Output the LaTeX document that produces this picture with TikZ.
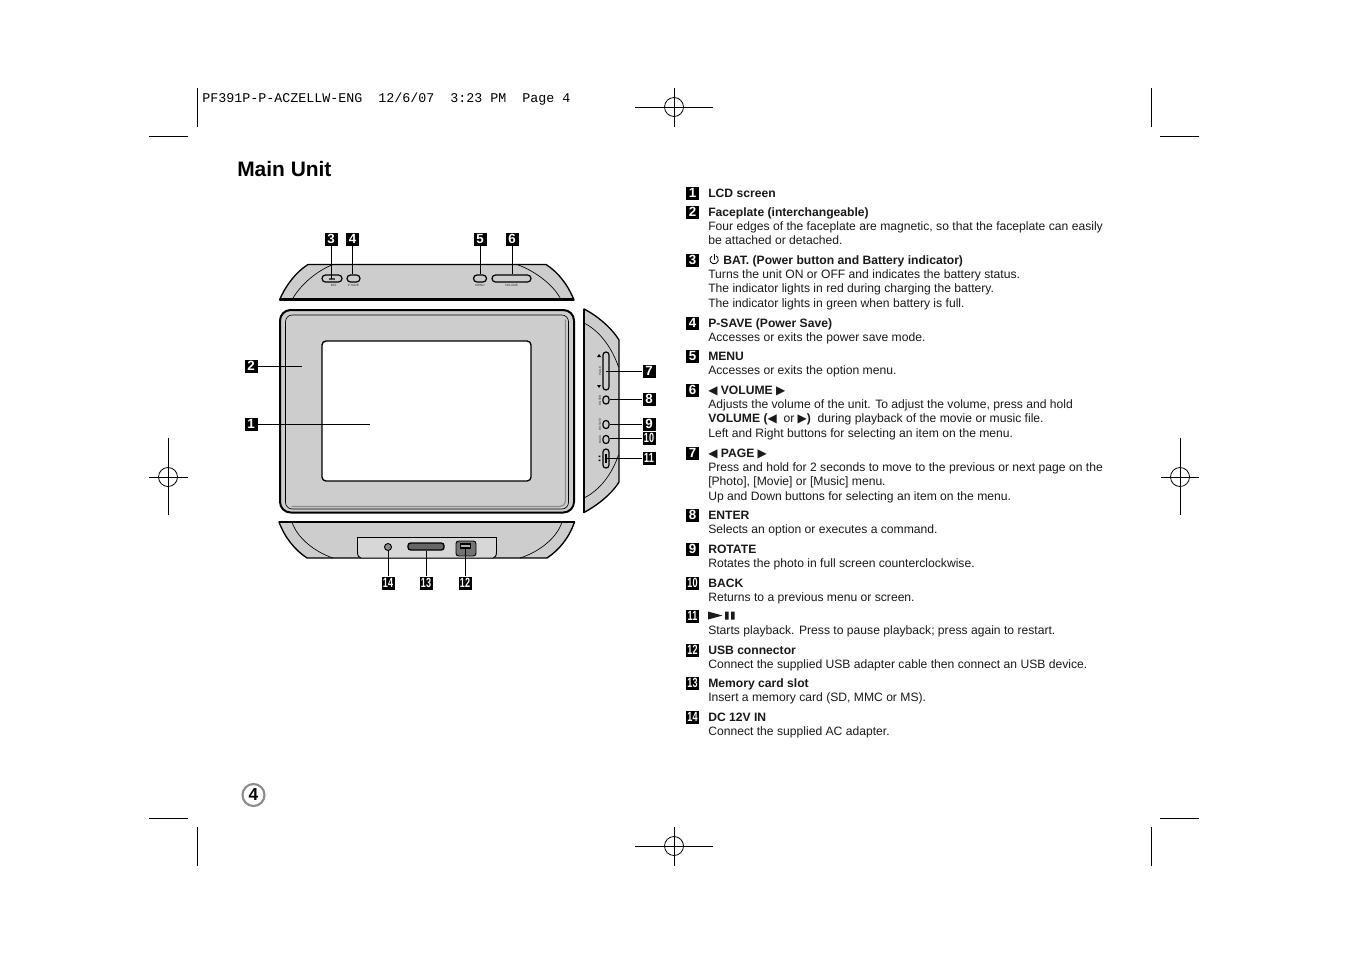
\documentclass[tikz,border=0pt]{standalone}
\usepackage{fontspec}
\setmainfont{Liberation Sans}
\newfontfamily\symf{DejaVu Sans}
\newfontfamily\monof{Liberation Mono}
\newcommand{\lt}{{\symf\fontsize{9}{9}\selectfont ◀}}
\newcommand{\rt}{{\symf\fontsize{9}{9}\selectfont ▶}}
\newcommand{\hd}[1]{\strut\textbf{#1}}
\newcommand{\nn}[1]{\scalebox{0.68}[1]{#1}}
\definecolor{panel}{HTML}{CDCDCD}
\definecolor{ink}{HTML}{1A1A1A}
\tikzset{
  x=0.75pt,y=-0.75pt,
  mw/.style={minimum width=#1*0.75pt},
  mh/.style={minimum height=#1*0.75pt},
  badge/.style={fill=black,text=white,font=\fontsize{10}{10}\bfseries\selectfont,mw=13,mh=13,inner sep=0pt},
  entry/.style={anchor=north west,inner sep=0pt,align=left,font=\fontsize{9.1}{10.75}\selectfont,text=ink},
  leader/.style={line width=0.65pt,black},
  outline/.style={line width=1pt,black,fill=panel,line join=round},
  thin arc/.style={line width=0.5pt,black},
  btn/.style={draw=black,line width=0.9pt,fill=panel,inner sep=0pt,rectangle},
  tiny/.style={font=\fontsize{2.3}{2.6}\selectfont,inner sep=0pt,text=black!80},
  crop/.style={line width=0.6pt,black},
}
\begin{document}
\begin{tikzpicture}
\useasboundingbox (0,0) rectangle (1351,954);
\fill[white] (0,0) rectangle (1351,954);

% crop marks
\foreach \a/\b/\c/\d in {197/88/197/127,149/136/188/136,1151/88/1151/127,1160/136/1199/136,
  149/818/188/818,197/827/197/866,1160/818/1199/818,1151/827/1151/866,
  635/107/713/107,674/88/674/127,635/846/713/846,674/827/674/866,
  149/477/188/477,168/438/168/515,1161/477/1199/477,1180/438/1180/515}
  {\draw[crop] (\a,\b) -- (\c,\d);}
\foreach \a/\b in {674/107,674/846,168/477,1180/477}
  {\draw[crop] (\a,\b) circle[radius=9.5];}

\node[anchor=base west,inner sep=0pt,font=\monof\fontsize{10}{10}\selectfont] (hdr) at (202,102)
  {PF391P-P-ACZELLW-ENG\ \ 12/6/07\ \ 3:23 PM\ \ Page 4};
\node[anchor=base west,inner sep=0pt,font=\fontsize{15.7}{18}\bfseries\selectfont] (title) at (237,176) {Main Unit};

% top panel
\draw[outline] (279.5,300) .. controls (286,285) and (296,272) .. (308,264.5) -- (546,264.5)
  .. controls (558,272) and (568,285) .. (574,300) -- cycle;
\draw[thin arc] (292,300) .. controls (298,288) and (314,272) .. (333,264.5);
\draw[thin arc] (561,300) .. controls (556,288) and (538,272) .. (517,264.5);
\draw[line width=1.6pt] (279.5,299.5) -- (574,299.5);
\node[btn,mw=20,mh=7,rounded corners=2.6pt] (b3) at (332,278.5) {};
\fill[black!70] (329,277.5) rectangle (335,279.5);
\node[btn,mw=13,mh=7,rounded corners=2.6pt] (b4) at (353.5,278.5) {};
\node[btn,mw=13,mh=7,rounded corners=2.6pt] (b5) at (480,278.5) {};
\node[btn,mw=39,mh=7,rounded corners=2.6pt] (b6) at (511.5,278.5) {};
\node[tiny] (t3) at (334,285) {BAT.};
\node[tiny] (t4) at (353.5,285) {P-SAVE};
\node[tiny] (t5) at (480,285) {MENU};
\node[tiny] (t6) at (511.5,285) {VOLUME};
\node[badge] (d3) at (331,239) {3};
\node[badge] (d4) at (352.5,239) {4};
\node[badge] (d5) at (480,239) {5};
\node[badge] (d6) at (512,239) {6};
\draw[leader] (d3.south) -- (d3.south |- b3.center);
\draw[leader] (d4.south) -- (d4.south |- b4.north);
\draw[leader] (d5.south) -- (d5.south |- b5.north);
\draw[leader] (d6.south) -- (d6.south |- b6.north);

% main unit
\draw[line width=1.5pt,black,fill=panel,rounded corners=8pt] (280,310) rectangle (574,512.5);
\draw[line width=0.5pt,black,rounded corners=5pt] (285.5,315) rectangle (568.5,509);
\draw[line width=0.9pt,black!45,line cap=round] (565.5,320) -- (565.5,500) .. controls (565.5,504) and (563,506.5) .. (559,506.5) -- (292,506.5);
\node[draw=black,line width=1pt,fill=white,rounded corners=3pt,mw=209,mh=140,inner sep=0pt] (lcd) at (426.5,411) {};
\node[badge] (d2) at (251,366) {2};
\node[badge] (d1) at (251,424) {1};
\coordinate (c2) at (302,366);
\coordinate (c1) at (370,424);
\draw[leader] (d2.east) -- (c2);
\draw[leader] (d1.east) -- (c1);

% right panel
\draw[outline] (584,309) .. controls (596,315) and (611,327) .. (619,340) -- (619,482)
  .. controls (611,495) and (596,506) .. (584,512.5) -- cycle;
\draw[line width=1.6pt] (584,309) -- (584,512.5);
\draw[thin arc] (584,323) .. controls (600,331) and (612,348) .. (618.5,367);
\draw[thin arc] (618.5,455) .. controls (612,474) and (600,490) .. (584,498);
\node[btn,mw=6,mh=38,rounded corners=2.2pt] (b7) at (606,371) {};
\node[btn,mw=6,mh=8,rounded corners=2.2pt] (b8) at (606,400) {};
\node[btn,mw=6,mh=8,rounded corners=2.2pt] (b9) at (606,424.5) {};
\node[btn,mw=6,mh=8,rounded corners=2.2pt] (b10) at (606,439.5) {};
\node[btn,mw=6,mh=19,rounded corners=2.2pt] (b11) at (606,458.5) {};
\draw[line width=0.9pt] (606,454) -- (606,463);
\fill[black] (598.6,455.5) rectangle (600.4,457) (598.6,459.5) rectangle (600.4,461);
\node[tiny,rotate=90] (t7b) at (600,371) {PAGE};
\node[tiny,rotate=90] (t8) at (600,400) {ENTER};
\node[tiny,rotate=90] (t9) at (600,424.5) {ROTATE};
\node[tiny,rotate=90] (t10) at (600,439.5) {BACK};
\fill[black] (599,354) -- (601,357) -- (597,357) -- cycle;
\fill[black] (599,388) -- (601,385) -- (597,385) -- cycle;
\node[badge] (d7) at (649,371) {7};
\node[badge] (d8) at (649,399) {8};
\node[badge] (d9) at (649,424) {9};
\node[badge] (d10) at (649,438) {\nn{10}};
\node[badge] (d11) at (649,458) {\nn{11}};
\draw[leader] (d7.west) -- (d7.west -| b7.center);
\draw[leader] (d8.west) -- (d8.west -| b8.east);
\draw[leader] (d9.west) -- (d9.west -| b9.east);
\draw[leader] (d10.west) -- (d10.west -| b10.east);
\draw[leader] (d11.west) -- (d11.west -| b11.center);

% bottom panel
\draw[outline] (279,522) -- (574.5,522) .. controls (569,538) and (559,550) .. (547,558) -- (307,558)
  .. controls (295,550) and (285,538) .. cycle;
\draw[line width=1.6pt] (279,522) -- (574.5,522);
\draw[thin arc] (292,522) .. controls (297,538) and (315,552) .. (333,558);
\draw[thin arc] (562,522) .. controls (557,538) and (539,552) .. (520,558);
\draw[line width=0.7pt,fill=panel!80!white] (357.5,537.5) -- (496.5,537.5) -- (496.5,552) .. controls (496.5,556) and (495,557.5) .. (493,558)
  -- (361,558) .. controls (359,557.5) and (357.5,556) .. (357.5,552) -- cycle;
\node[circle,draw=black,line width=0.7pt,fill=black!45,minimum size=5.25pt,inner sep=0pt] (b14) at (388,547) {};
\node[draw=black,line width=1pt,fill=black!60,rounded corners=2pt,mw=36,mh=7,inner sep=0pt] (b13) at (426,546.5) {};
\node[draw=black,line width=0.7pt,fill=black!55,rounded corners=2pt,mw=20,mh=15,inner sep=0pt] (b12) at (466,548.5) {};
\draw[line width=0.8pt,fill=black!30] (460.5,544) rectangle (470.5,548);
\node[badge] (d14) at (388,583) {\nn{14}};
\node[badge] (d13) at (426,583) {\nn{13}};
\node[badge] (d12) at (465,583) {\nn{12}};
\draw[leader] (d14.north) -- (d14.north |- b14.south);
\draw[leader] (d13.north) -- (d13.north |- b13.south);
\draw[leader] (d12.north) -- (d12.north |- b12.center);

% page number
\node[circle,draw=black!45,line width=1.6pt,minimum size=16.5pt,inner sep=0pt,font=\fontsize{13}{14}\bfseries\selectfont] (pg) at (253.5,795) {4};

% list badges
\foreach \n/\y in {1/193,2/212,3/260,4/323,5/356,6/390,7/453,8/515,9/549}
  {\node[badge,mw=13,mh=13] (l\n) at (692.5,\y) {\n};}
\foreach \n/\y in {10/583,11/616,12/650,13/683,14/717}
  {\node[badge,mw=13,mh=13] (l\n) at (692.5,\y) {\nn{\n}};}

% list text
\node[entry] (e1) at (708,187) {\hd{LCD screen}};
\node[entry] (e2) at (708,206) {\hd{Faceplate (interchangeable)}\\Four edges of the faceplate are magnetic, so that the faceplate can easily\\be attached or detached.};
\node[entry] (e3) at (708,254) {\hd{\hspace{11.25pt}BAT. (Power button and Battery indicator)}\\Turns the unit ON or OFF and indicates the battery status.\\The indicator lights in red during charging the battery.\\The indicator lights in green when battery is full.};
\draw[line width=0.6pt] (712,256) arc[start angle=-120,end angle=-420,radius=4.2];
\draw[line width=0.6pt] (714.1,253.5) -- (714.1,259.5);
\node[entry] (e4) at (708,317) {\hd{P-SAVE (Power Save)}\\Accesses or exits the power save mode.};
\node[entry] (e5) at (708,350) {\hd{MENU}\\Accesses or exits the option menu.};
\node[entry] (e6) at (708,384) {\hd{\lt\ VOLUME \rt}\\Adjusts the volume of the unit. To adjust the volume, press and hold\\\textbf{VOLUME (\lt\ \ }or \textbf{\rt)}\ \ during playback of the movie or music file.\\Left and Right buttons for selecting an item on the menu.};
\node[entry] (e7) at (708,447) {\hd{\lt\ PAGE \rt}\\Press and hold for 2 seconds to move to the previous or next page on the\\{[Photo]}, [Movie] or [Music] menu.\\Up and Down buttons for selecting an item on the menu.};
\node[entry] (e8) at (708,509) {\hd{ENTER}\\Selects an option or executes a command.};
\node[entry] (e9) at (708,543) {\hd{ROTATE}\\Rotates the photo in full screen counterclockwise.};
\node[entry] (e10) at (708,577) {\hd{BACK}\\Returns to a previous menu or screen.};
\node[entry] (e11) at (708,610) {\strut\\Starts playback. Press to pause playback; press again to restart.};
\fill[ink] (708,611.5) -- (722.5,615.5) -- (708,619.5) -- cycle;
\fill[ink] (725,611.5) rectangle (728.5,619.5) (731,611.5) rectangle (734.5,619.5);
\node[entry] (e12) at (708,644) {\hd{USB connector}\\Connect the supplied USB adapter cable then connect an USB device.};
\node[entry] (e13) at (708,677) {\hd{Memory card slot}\\Insert a memory card (SD, MMC or MS).};
\node[entry] (e14) at (708,711) {\hd{DC 12V IN}\\Connect the supplied AC adapter.};
\end{tikzpicture}
\end{document}
